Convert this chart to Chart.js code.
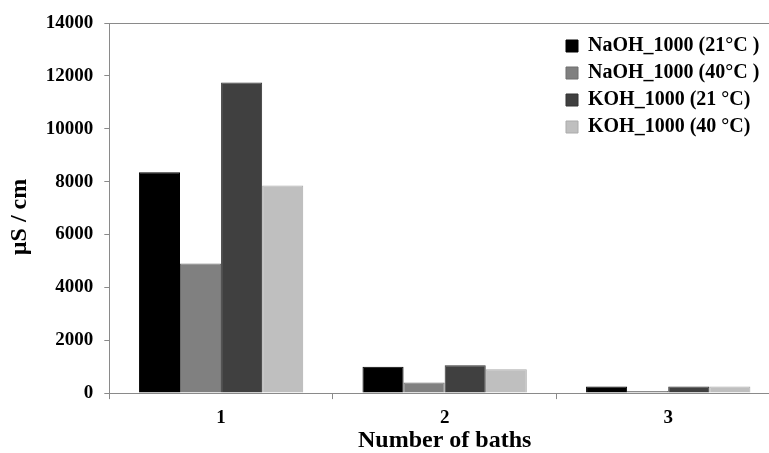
<!DOCTYPE html>
<html>
<head>
<meta charset="utf-8">
<script src="https://cdn.jsdelivr.net/npm/chart.js@4/dist/chart.umd.min.js"></script>
<style>
  html, body { margin: 0; padding: 0; background: #fff; overflow: hidden; }
  #wrap { width: 782px; height: 453px; }
</style>
</head>
<body>
<div id="wrap"><canvas id="chart"></canvas></div>
<script>
// values
const categories = ['1', '2', '3'];
const naoh21 = [8350, 1000, 250];
const naoh40 = [4900, 400, 80];
const koh21 = [11750, 1050, 250];
const koh40 = [7850, 900, 250];
const yTicks = [0, 2000, 4000, 6000, 8000, 10000, 12000, 14000];

const serif = 'Liberation Serif, Times New Roman, serif';
const axisGray = '#8a8a8a';

// moves the legend into the top right corner of the plot
const legendCorner = {
    id: 'legendCorner',
    afterLayout(chart) {
        const lg = chart.legend;
        if (!lg) return;
        const w = lg.width, h = lg.height;
        lg.left = 559;
        lg.top = 29;
        lg.right = lg.left + w;
        lg.bottom = lg.top + h;
    }
};

new Chart(document.getElementById('chart'), {
    type: 'bar',
    data: {
        labels: categories,
        datasets: [
            { label: 'NaOH_1000 (21°C )', data: naoh21, backgroundColor: '#000000', borderColor: '#000000', borderWidth: 1 },
            { label: 'NaOH_1000 (40°C )', data: naoh40, backgroundColor: '#808080', borderColor: '#6e6e6e', borderWidth: 1 },
            { label: 'KOH_1000 (21 °C)', data: koh21, backgroundColor: '#404040', borderColor: '#333333', borderWidth: 1 },
            { label: 'KOH_1000 (40 °C)', data: koh40, backgroundColor: '#bfbfbf', borderColor: '#ababab', borderWidth: 1 },
        ],
    },
    options: {
        responsive: true,
        maintainAspectRatio: false,
        animation: false,
        layout: { padding: { left: 5, top: 23, right: 2, bottom: 0 } },
        datasets: { bar: { categoryPercentage: 0.735, barPercentage: 1 } },
        plugins: {
            legend: {
                position: 'chartArea',
                align: 'start',
                labels: {
                    boxWidth: 12,
                    boxHeight: 12,
                    padding: 7,
                    color: '#000',
                    font: { family: serif, size: 20, weight: 'bold' },
                },
            },
            tooltip: { enabled: false },
        },
        scales: {
            x: {
                border: { color: axisGray, width: 1 },
                grid: { color: 'transparent', tickColor: axisGray, tickLength: 6, offset: true },
                ticks: { color: '#000', padding: 18, font: { family: serif, size: 19, weight: 'bold', lineHeight: 0.1 } },
                title: {
                    display: true,
                    text: 'Number of baths',
                    color: '#000',
                    padding: { top: -8, bottom: 0 },
                    font: { family: serif, size: 24, weight: 'bold', lineHeight: 1 },
                },
            },
            y: {
                min: 0,
                max: 14000,
                afterBuildTicks: (axis) => { axis.ticks = yTicks.map(v => ({ value: v })); },
                border: { color: axisGray, width: 1 },
                grid: {
                    color: (ctx) => (ctx.tick && ctx.tick.value === 14000 ? axisGray : 'transparent'),
                    tickColor: axisGray,
                    tickLength: 5,
                },
                ticks: {
                    color: '#000',
                    padding: 11,
                    font: { family: serif, size: 19, weight: 'bold' },
                    callback: (v) => String(v),
                },
                title: {
                    display: true,
                    text: 'µS / cm   ',
                    color: '#000',
                    padding: { top: 0, bottom: 1 },
                    font: { family: serif, size: 24, weight: 'bold', lineHeight: 1.2 },
                },
            },
        },
    },
    plugins: [legendCorner],
});
</script>
</body>
</html>
